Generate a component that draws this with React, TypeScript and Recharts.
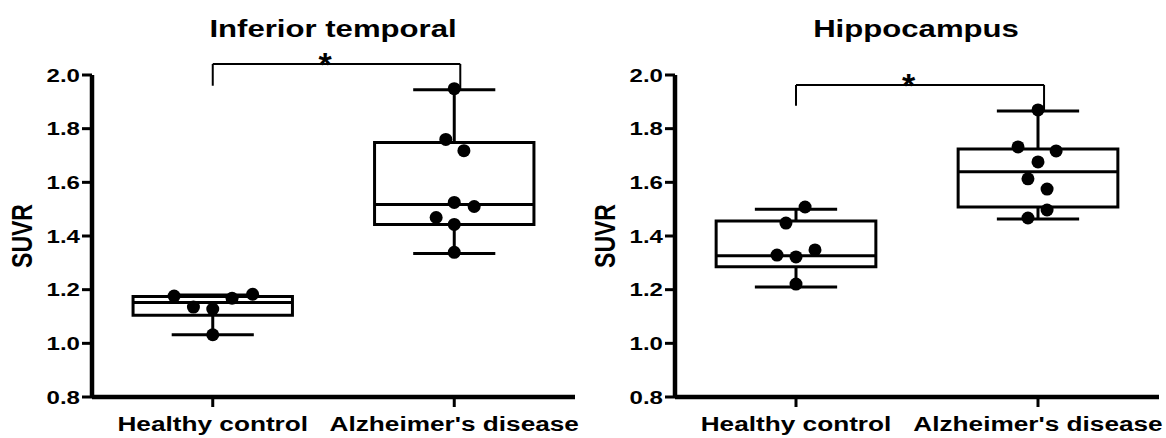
import React from 'react';
import { ComposedChart, XAxis, YAxis, Scatter, ReferenceArea, ReferenceLine, ReferenceDot } from 'recharts';

const categories = ['Healthy control', "Alzheimer's disease"];
const categoryX = [1, 3];
const yTicks = [0.8, 1.0, 1.2, 1.4, 1.6, 1.8, 2.0];

// Inferior temporal
const itHealthy = [1.176, 1.135, 1.128, 1.032, 1.168, 1.183];
const itHealthyJitter = [-0.32, -0.16, 0, 0, 0.16, 0.33];
const itHealthyBox = [1.032, 1.105, 1.152, 1.175, 1.18]; // min, q1, median, q3, max
const itAlz = [1.949, 1.76, 1.718, 1.525, 1.51, 1.469, 1.443, 1.339];
const itAlzJitter = [0, -0.07, 0.08, 0, 0.165, -0.15, 0, 0];
const itAlzBox = [1.335, 1.443, 1.517, 1.748, 1.945];
const itBracket = [2.041, 1.96, 1.945]; // top, left leg end, right leg end

// Hippocampus
const hipHealthy = [1.508, 1.448, 1.329, 1.322, 1.348, 1.221];
const hipHealthyJitter = [0.075, -0.083, -0.157, 0, 0.157, 0];
const hipHealthyBox = [1.21, 1.285, 1.326, 1.456, 1.5];
const hipAlz = [1.87, 1.732, 1.717, 1.676, 1.613, 1.575, 1.497, 1.467];
const hipAlzJitter = [0, -0.165, 0.15, 0, -0.083, 0.075, 0.075, -0.083];
const hipAlzBox = [1.463, 1.508, 1.639, 1.724, 1.866];
const hipBracket = [1.963, 1.885, 1.866];

const FONT = '"Liberation Sans", Arial, Helvetica, sans-serif';
const INK = '#000';
const BOX_HALF = 0.66;
const CAP_HALF = 0.34;

const YTick = (props: any) => {
  const { x, y, payload } = props;
  return (
    <text
      transform={`translate(${x},${y}) scale(1.3,1)`}
      textAnchor="end"
      dy="0.36em"
      fontSize={18.5}
      fontWeight="bold"
      fontFamily={FONT}
      fill={INK}
      stroke="none"
    >
      {Number(payload.value).toFixed(1)}
    </text>
  );
};

const XTick = (props: any) => {
  const { x, y, payload } = props;
  const idx = categoryX.indexOf(payload.value);
  return (
    <text
      transform={`translate(${x},${y + 22}) scale(1.31,1)`}
      textAnchor="middle"
      fontSize={20}
      fontWeight="bold"
      fontFamily={FONT}
      fill={INK}
      stroke="none"
    >
      {categories[idx] ?? ''}
    </text>
  );
};

const Dot = (props: any) => <circle cx={props.cx} cy={props.cy} r={6.5} fill={INK} />;

interface Group {
  values: number[];
  jitter: number[];
  box: number[];
}

interface PanelProps {
  title: string;
  groups: Group[];
  bracket: number[];
  left: number;
  marginRight: number;
}

function boxElements(g: Group, cx: number, key: string) {
  const [min, q1, med, q3, max] = g.box;
  const line = { stroke: INK, strokeWidth: 3, ifOverflow: 'visible' as const };
  return [
    <ReferenceArea key={`${key}-box`} x1={cx - BOX_HALF} x2={cx + BOX_HALF} y1={q1} y2={q3}
      stroke={INK} strokeWidth={3} fill="#fff" fillOpacity={0} ifOverflow="visible" />,
    <ReferenceLine key={`${key}-med`} segment={[{ x: cx - BOX_HALF, y: med }, { x: cx + BOX_HALF, y: med }]} {...line} />,
    <ReferenceLine key={`${key}-wlo`} segment={[{ x: cx, y: min }, { x: cx, y: q1 }]} {...line} />,
    <ReferenceLine key={`${key}-whi`} segment={[{ x: cx, y: q3 }, { x: cx, y: max }]} {...line} />,
    <ReferenceLine key={`${key}-clo`} segment={[{ x: cx - CAP_HALF, y: min }, { x: cx + CAP_HALF, y: min }]} {...line} />,
    <ReferenceLine key={`${key}-chi`} segment={[{ x: cx - CAP_HALF, y: max }, { x: cx + CAP_HALF, y: max }]} {...line} />,
  ];
}

function Panel({ title, groups, bracket, left, marginRight }: PanelProps) {
  const points = groups.flatMap((g, gi) =>
    g.values.map((v, i) => ({ x: categoryX[gi] + g.jitter[i], y: v }))
  );
  const [bTop, bLeft, bRight] = bracket;
  const bLine = { stroke: INK, strokeWidth: 2, ifOverflow: 'visible' as const };
  const starX = (categoryX[0] + categoryX[1]) / 2 - 0.07;
  const starY = bTop + 0.027;

  return (
    <div style={{ position: 'absolute', left, top: 0, width: 583, height: 438 }}>
      <ComposedChart width={583} height={438} margin={{ top: 75, right: marginRight, bottom: 0, left: 0 }}>
        <XAxis
          type="number"
          dataKey="x"
          domain={[0, 4]}
          ticks={categoryX}
          tick={<XTick />}
          tickSize={10}
          height={41}
          stroke={INK}
          strokeWidth={4}
          axisLine={{ stroke: INK, strokeWidth: 4.5 }}
          tickLine={{ stroke: INK, strokeWidth: 3 }}
          allowDataOverflow
        />
        <YAxis
          type="number"
          dataKey="y"
          domain={[0.8, 2.0]}
          ticks={yTicks}
          tick={<YTick />}
          tickSize={10}
          width={92}
          stroke={INK}
          strokeWidth={4}
          axisLine={{ stroke: INK, strokeWidth: 4.5 }}
          tickLine={{ stroke: INK, strokeWidth: 3 }}
          allowDataOverflow
        />
        {groups.flatMap((g, gi) => boxElements(g, categoryX[gi], `g${gi}`))}
        <ReferenceLine segment={[{ x: categoryX[0], y: bLeft }, { x: categoryX[0], y: bTop }]} {...bLine} />
        <ReferenceLine segment={[{ x: categoryX[0], y: bTop }, { x: categoryX[1] + 0.05, y: bTop }]} {...bLine} />
        <ReferenceLine segment={[{ x: categoryX[1] + 0.05, y: bTop }, { x: categoryX[1] + 0.05, y: bRight }]} {...bLine} />
        <ReferenceDot
          x={starX}
          y={starY}
          r={0}
          ifOverflow="visible"
          shape={(p: any) => (
            <text x={p.cx} y={p.cy + 19} textAnchor="middle" fontSize={34} fontWeight="bold" fontFamily={FONT} fill={INK}>
              *
            </text>
          )}
        />
        <Scatter data={points} dataKey="y" shape={<Dot />} isAnimationActive={false} />
      </ComposedChart>
      <svg width={583} height={438} style={{ position: 'absolute', left: 0, top: 0, pointerEvents: 'none' }}>
        <text
          transform="translate(333,37) scale(1.27,1)"
          textAnchor="middle"
          fontSize={24.5}
          fontWeight="bold"
          fontFamily={FONT}
          fill={INK}
        >
          {title}
        </text>
        <text
          transform="translate(22,236) scale(1.3,1) rotate(-90)"
          textAnchor="middle"
          dominantBaseline="central"
          fontSize={23}
          fontWeight="bold"
          fontFamily={FONT}
          fill={INK}
        >
          SUVR
        </text>
      </svg>
    </div>
  );
}

export default function App() {
  return (
    <div style={{ position: 'absolute', left: 0, top: 0, width: 1166, height: 438, background: '#fff' }}>
      <Panel
        title="Inferior temporal"
        groups={[
          { values: itHealthy, jitter: itHealthyJitter, box: itHealthyBox },
          { values: itAlz, jitter: itAlzJitter, box: itAlzBox },
        ]}
        bracket={itBracket}
        left={0}
        marginRight={8}
      />
      <Panel
        title="Hippocampus"
        groups={[
          { values: hipHealthy, jitter: hipHealthyJitter, box: hipHealthyBox },
          { values: hipAlz, jitter: hipAlzJitter, box: hipAlzBox },
        ]}
        bracket={hipBracket}
        left={583}
        marginRight={7}
      />
    </div>
  );
}
